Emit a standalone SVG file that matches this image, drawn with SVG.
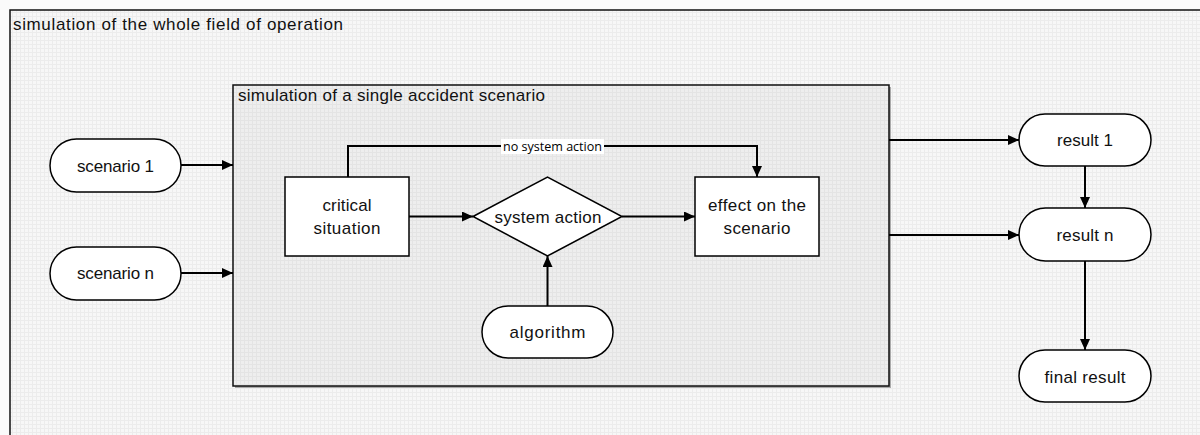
<svg xmlns="http://www.w3.org/2000/svg" width="1200" height="435" viewBox="0 0 1200 435">
<defs>
<pattern id="grid" width="4" height="4" patternUnits="userSpaceOnUse">
<rect width="4" height="4" fill="#f7f7f7"/>
<path d="M0 0.5H4M0.5 0V4" stroke="#ececec" stroke-width="1"/>
</pattern>
<pattern id="grid2" width="4" height="4" patternUnits="userSpaceOnUse">
<rect width="4" height="4" fill="#eeeeee"/>
<path d="M0 0.5H4M0.5 0V4" stroke="#e4e4e4" stroke-width="1"/>
</pattern>
<marker id="arr" viewBox="0 0 11 10" refX="11" refY="5" markerWidth="11" markerHeight="10" markerUnits="userSpaceOnUse" orient="auto">
<path d="M0 0L11 5L0 10Z" fill="#000"/>
</marker>
<style>
.t{font-family:"Liberation Sans",Arial,sans-serif;font-size:17px;fill:#111;}
.c{text-anchor:middle;}
.n{fill:#fff;stroke:#000;stroke-width:1.5;}
.e{fill:none;stroke:#000;stroke-width:2;marker-end:url(#arr);}
</style>
</defs>
<rect x="0" y="0" width="1200" height="435" fill="#fafafa"/>
<g id="outer-frame">
<rect x="10" y="10" width="1200" height="440" fill="url(#grid)"/>
<path d="M10 435V10H1200" fill="none" stroke="#111" stroke-width="1.5"/>
<text class="t" x="13" y="30" font-size="17" textLength="330" lengthAdjust="spacing">simulation of the whole field of operation</text>
</g>
<g id="inner-frame">
<rect x="235" y="87" width="656" height="301" fill="#aaa"/>
<rect x="233" y="85" width="656" height="301" fill="url(#grid2)" stroke="#111" stroke-width="1.5"/>
<text class="t" x="238" y="101" font-size="17" textLength="307" lengthAdjust="spacing">simulation of a single accident scenario</text>
</g>
<g id="connectors">
<line class="e" x1="181" y1="165" x2="233" y2="165"/>
<line class="e" x1="181" y1="273" x2="233" y2="273"/>
<polyline class="e" points="348,177 348,146 757,146 757,177"/>
<rect x="501" y="139" width="103" height="15" fill="#fff"/>
<text x="552.5" y="151" text-anchor="middle" font-family="'Open Sans','Liberation Sans',sans-serif" font-size="12" fill="#000" textLength="99" lengthAdjust="spacingAndGlyphs">no system action</text>
<line class="e" x1="409" y1="216.5" x2="473" y2="216.5"/>
<line class="e" x1="622" y1="216.5" x2="695" y2="216.5"/>
<line class="e" x1="547.5" y1="306" x2="547.5" y2="256"/>
<line class="e" x1="889" y1="140" x2="1019" y2="140"/>
<line class="e" x1="889" y1="235" x2="1019" y2="235"/>
<line class="e" x1="1085" y1="166" x2="1085" y2="208"/>
<line class="e" x1="1085" y1="261" x2="1085" y2="350"/>
</g>
<g id="scenario-1">
<rect class="n" x="50" y="139" width="131" height="53" rx="26.5"/>
<text class="t c" x="115.5" y="172" textLength="77" lengthAdjust="spacing">scenario 1</text>
</g>
<g id="scenario-n">
<rect class="n" x="50" y="247" width="131" height="53" rx="26.5"/>
<text class="t c" x="115.5" y="279" textLength="77" lengthAdjust="spacing">scenario n</text>
</g>
<g id="critical-situation">
<rect class="n" x="285" y="177" width="124" height="79"/>
<text class="t c" x="347" y="211" textLength="49" lengthAdjust="spacing">critical</text>
<text class="t c" x="347" y="234" textLength="67" lengthAdjust="spacing">situation</text>
</g>
<g id="system-action">
<polygon class="n" points="473,216.5 547.5,177 622,216.5 547.5,256"/>
<text class="t c" x="548" y="223" textLength="107" lengthAdjust="spacing">system action</text>
</g>
<g id="effect-on-scenario">
<rect class="n" x="695" y="177" width="124" height="79"/>
<text class="t c" x="757" y="211" textLength="98" lengthAdjust="spacing">effect on the</text>
<text class="t c" x="757" y="234" textLength="67" lengthAdjust="spacing">scenario</text>
</g>
<g id="algorithm">
<rect class="n" x="482" y="306" width="131" height="52" rx="26"/>
<text class="t c" x="547.5" y="338" textLength="76" lengthAdjust="spacing">algorithm</text>
</g>
<g id="result-1">
<rect class="n" x="1019" y="114" width="132" height="52" rx="26"/>
<text class="t c" x="1085" y="146" textLength="56" lengthAdjust="spacing">result 1</text>
</g>
<g id="result-n">
<rect class="n" x="1019" y="208" width="132" height="53" rx="26.5"/>
<text class="t c" x="1085" y="241" textLength="57" lengthAdjust="spacing">result n</text>
</g>
<g id="final-result">
<rect class="n" x="1019" y="350" width="132" height="52" rx="26"/>
<text class="t c" x="1085" y="383" textLength="81" lengthAdjust="spacing">final result</text>
</g>
</svg>
